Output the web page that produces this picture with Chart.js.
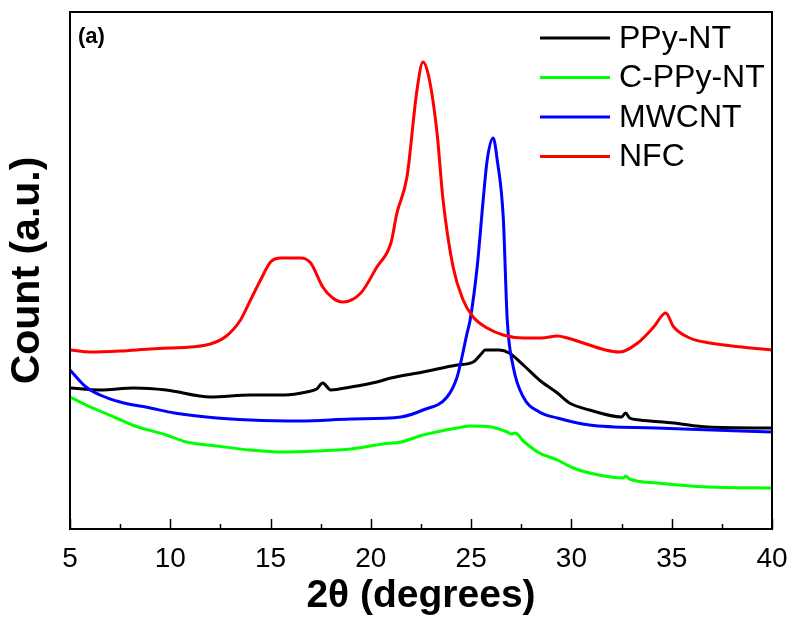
<!DOCTYPE html>
<html>
<head>
<meta charset="utf-8">
<script src="https://cdn.jsdelivr.net/npm/chart.js@4.4.1/dist/chart.umd.min.js"></script>
<style>
  html, body { margin: 0; padding: 0; background: #fff; }
  #wrap { width: 792px; height: 618px; }
</style>
</head>
<body>
<div id="wrap"><canvas id="xrd" width="792" height="618"></canvas></div>
<script>
// XRD patterns, 2theta in degrees, intensity in arbitrary units (stacked offsets)
const seriesNames = ['PPy-NT', 'C-PPy-NT', 'MWCNT', 'NFC'];
const seriesColors = ['#000000', '#00ff00', '#0000ff', '#ff0000'];

const ppyAngle = [5.0, 6.5, 8.2, 9.8, 12.0, 14.0, 15.7, 16.8, 17.3, 17.6, 18.0, 19.0, 20.3, 21.0, 22.6, 24.3, 25.1, 25.5, 25.7, 26.4, 26.9, 27.6, 28.4, 29.3, 29.9, 30.9, 32.5, 32.7, 32.9, 33.4, 35.1, 36.8, 40.0];
const ppyCount = [141, 139, 141, 139, 132, 134, 134, 137, 140, 146, 139, 142, 147, 151, 157, 164, 167, 175, 179, 179, 176, 164, 149, 136, 126, 119, 112, 116, 111, 109, 106, 102, 101];

const cppyAngle = [5.0, 5.8, 7.3, 8.1, 9.8, 10.8, 12.3, 14.0, 15.6, 17.3, 19.0, 20.6, 21.5, 22.6, 24.3, 25.0, 26.0, 26.8, 27.0, 27.2, 27.6, 28.4, 29.3, 30.1, 30.9, 32.6, 32.7, 32.9, 34.3, 36.8, 40.0];
const cppyCount = [132, 124, 111, 104, 94, 87, 83, 79, 77, 78, 80, 85, 87, 94, 101, 103, 102, 97, 95, 96, 88, 76, 69, 61, 56, 51, 53, 50, 46, 42, 41];

const cntAngle = [5.0, 5.8, 6.5, 7.5, 9.0, 10.2, 11.8, 14.0, 16.5, 19.0, 21.5, 22.6, 23.8, 24.3, 24.8, 24.95, 25.3, 25.6, 25.8, 26.1, 26.3, 26.6, 26.8, 27.1, 27.6, 28.4, 29.3, 30.9, 34.2, 40.0];
const cntCount = [159, 142, 134, 127, 121, 116, 112, 109, 108, 110, 112, 119, 132, 152, 196, 209, 262, 329, 369, 391, 369, 312, 209, 162, 132, 117, 111, 104, 101, 97];

const nfcAngle = [5.0, 6.0, 7.5, 9.0, 10.0, 11.0, 12.0, 12.8, 13.5, 14.0, 14.5, 15.0, 15.5, 16.0, 16.5, 17.0, 17.6, 18.1, 18.6, 19.5, 20.3, 21.0, 21.3, 21.8, 22.3, 22.6, 22.9, 23.3, 23.6, 24.1, 24.6, 25.1, 25.8, 26.6, 27.6, 28.5, 29.3, 29.8, 30.9, 31.7, 32.4, 33.3, 34.1, 34.7, 35.1, 35.9, 36.9, 38.5, 40.0];
const nfcCount = [179, 177, 178, 180, 181, 182, 185, 193, 209, 229, 249, 267, 271, 271, 271, 266, 242, 231, 227, 236, 262, 286, 316, 352, 439, 467, 451, 396, 329, 262, 229, 212, 201, 194, 191, 191, 193, 191, 184, 179, 177, 186, 202, 216, 202, 191, 186, 182, 179];

const xTicks = [5, 10, 15, 20, 25, 30, 35, 40];

const angles = [ppyAngle, cppyAngle, cntAngle, nfcAngle];
const counts = [ppyCount, cppyCount, cntCount, nfcCount];

const fontFamily = '"Liberation Sans", Arial, sans-serif';

// frame, inward ticks, legend and panel label
const decorations = {
    id: 'decorations',
    afterDraw(chart) {
        const { ctx, chartArea: a, scales: { x } } = chart;
        ctx.save();
        ctx.strokeStyle = '#000';
        ctx.lineWidth = 2;
        ctx.strokeRect(a.left, a.top, a.right - a.left, a.bottom - a.top);

        ctx.lineWidth = 1.5;
        for (let v = 5; v <= 40; v += 2.5) {
            const px = Math.round(x.getPixelForValue(v)) + 0.5;
            const len = (v % 5 === 0) ? 10 : 5;
            ctx.beginPath();
            ctx.moveTo(px, a.bottom);
            ctx.lineTo(px, a.bottom - len);
            ctx.stroke();
        }

        ctx.font = 'bold 22px ' + fontFamily;
        ctx.fillStyle = '#000';
        ctx.textBaseline = 'middle';
        ctx.textAlign = 'left';
        ctx.fillText('(a)', 78, 37);

        ctx.font = '32px ' + fontFamily;
        chart.data.datasets.forEach((ds, i) => {
            const y = 38 + i * 39.5;
            ctx.strokeStyle = ds.borderColor;
            ctx.lineWidth = 3;
            ctx.beginPath();
            ctx.moveTo(540, y);
            ctx.lineTo(610, y);
            ctx.stroke();
            ctx.fillStyle = '#000';
            ctx.fillText(ds.label, 619, y + 1);
        });
        ctx.restore();
    }
};

const ctx = document.getElementById('xrd').getContext('2d');
const xrdChart = new Chart(ctx, {
    type: 'line',
    data: {
        datasets: seriesNames.map((name, i) => ({
            label: name,
            data: angles[i].map((a, j) => ({ x: a, y: counts[i][j] })),
            borderColor: seriesColors[i],
            backgroundColor: seriesColors[i],
            borderWidth: 3,
            pointRadius: 0,
            cubicInterpolationMode: 'monotone',
            fill: false,
            order: 4 - i
        }))
    },
    options: {
        responsive: false,
        animation: false,
        devicePixelRatio: 1,
        layout: { padding: { top: 12, right: 20, left: 0, bottom: 0 } },
        plugins: {
            legend: { display: false },
            tooltip: { enabled: false }
        },
        scales: {
            x: {
                type: 'linear',
                min: 5,
                max: 40,
                afterBuildTicks: (scale) => { scale.ticks = xTicks.map(v => ({ value: v })); },
                afterFit: (scale) => {
                    scale.height = 89;
                    scale.paddingLeft = 0;
                    scale.paddingRight = 0;
                },
                grid: { display: false, drawTicks: false },
                border: { display: false },
                ticks: {
                    color: '#000',
                    padding: 13,
                    maxRotation: 0,
                    font: { family: fontFamily, size: 28 }
                },
                title: {
                    display: true,
                    text: '2θ (degrees)',
                    color: '#000',
                    padding: { bottom: 2, top: 0 },
                    font: { family: fontFamily, size: 39, weight: 'bold', lineHeight: 1.0 }
                }
            },
            y: {
                min: 0,
                max: 517,
                afterFit: (scale) => { scale.width = 70; },
                grid: { display: false, drawTicks: false },
                border: { display: false },
                ticks: { display: false },
                title: {
                    display: true,
                    text: 'Count (a.u.)',
                    color: '#000',
                    padding: { top: 7, bottom: 0 },
                    font: { family: fontFamily, size: 41, weight: 'bold', lineHeight: 1.0 }
                }
            }
        }
    },
    plugins: [decorations]
});
</script>
</body>
</html>
